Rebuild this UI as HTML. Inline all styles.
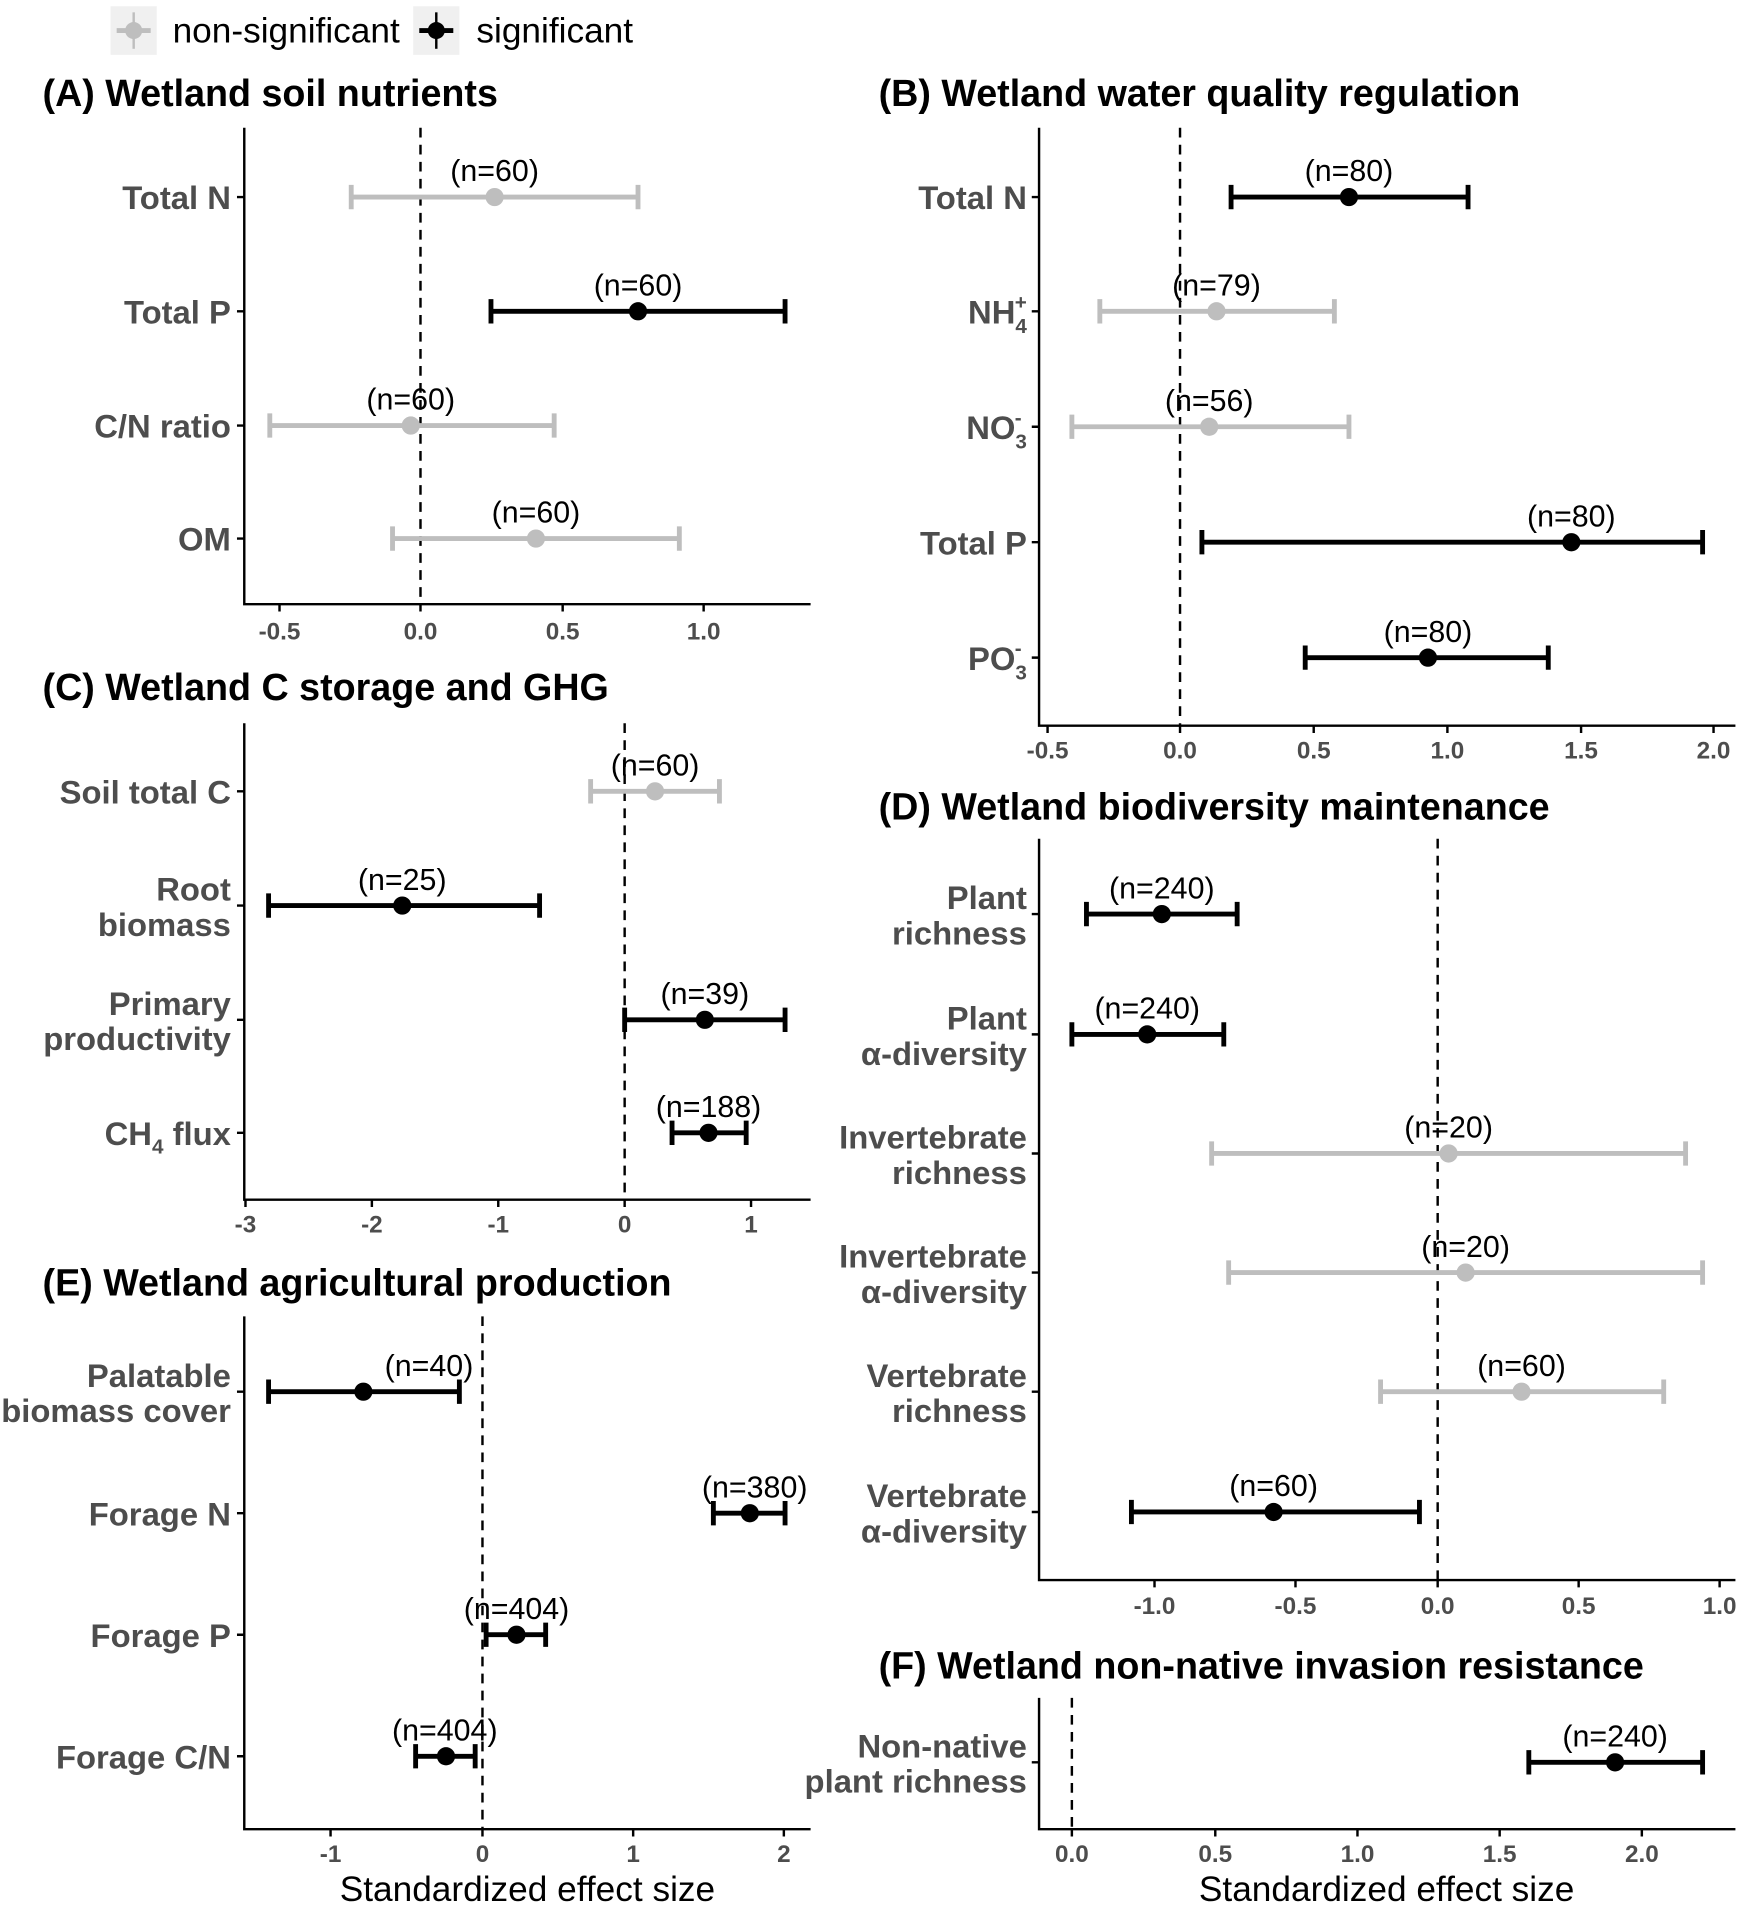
<!DOCTYPE html>
<html><head><meta charset="utf-8"><style>
html,body{margin:0;padding:0;background:#fff;}
svg{display:block;}
text{font-family:"Liberation Sans Narrow","Liberation Sans",sans-serif;}
.t{font-weight:bold;font-size:31px;fill:#000;}
.yl{font-weight:bold;font-size:27px;fill:#4d4d4d;text-anchor:end;}
.tk{font-weight:bold;font-size:20px;fill:#4d4d4d;text-anchor:middle;}
.n{font-size:25px;fill:#000;text-anchor:middle;}
.ax{stroke:#000;stroke-width:2;fill:none;}
.z{stroke:#000;stroke-width:2;stroke-dasharray:8,6;}
.g{stroke:#bebebe;stroke-width:4;fill:none;}
.b{stroke:#000;stroke-width:4;fill:none;}
.xt{font-size:29px;fill:#000;text-anchor:middle;}
</style></head><body>
<svg width="1750" height="1912" viewBox="0 0 1440 1573" xmlns="http://www.w3.org/2000/svg">
<!-- legend -->
<rect x="91" y="5" width="38" height="40" fill="#f0f0f0"/>
<line x1="96" y1="25" x2="124" y2="25" stroke="#bebebe" stroke-width="4"/>
<line x1="110" y1="10" x2="110" y2="40" stroke="#bebebe" stroke-width="2"/>
<circle cx="110" cy="25" r="7" fill="#bebebe"/>
<text x="142" y="35" style="font-size:29px">non-significant</text>
<rect x="340" y="5" width="38" height="40" fill="#f0f0f0"/>
<line x1="345" y1="25" x2="373" y2="25" stroke="#000" stroke-width="4"/>
<line x1="359" y1="10" x2="359" y2="40" stroke="#000" stroke-width="2"/>
<circle cx="359" cy="25" r="7" fill="#000"/>
<text x="392" y="35" style="font-size:29px">significant</text>

<!-- Panel A -->
<text class="t" x="35" y="87">(A) Wetland soil nutrients</text>
<line class="z" x1="346" y1="105" x2="346" y2="497"/>
<path class="ax" d="M201,105V497H667"/>
<g class="ax"><path d="M195,162h6M195,256h6M195,350h6M195,443h6M230,497v6M346,497v6M463,497v6M579,497v6"/></g>
<text class="yl" x="190" y="172">Total N</text>
<text class="yl" x="190" y="266">Total P</text>
<text class="yl" x="190" y="360">C/N ratio</text>
<text class="yl" x="190" y="453">OM</text>
<text class="tk" x="230" y="526">-0.5</text><text class="tk" x="346" y="526">0.0</text><text class="tk" x="463" y="526">0.5</text><text class="tk" x="579" y="526">1.0</text>
<path class="g" d="M289,162H525M289,152v20M525,152v20"/><circle cx="407" cy="162" r="7.5" fill="#bebebe"/><text class="n" x="407" y="149">(n=60)</text>
<path class="b" d="M404,256H646M404,246v20M646,246v20"/><circle cx="525" cy="256" r="7.5"/><text class="n" x="525" y="243">(n=60)</text>
<path class="g" d="M222,350H456M222,340v20M456,340v20"/><circle cx="338" cy="350" r="7.5" fill="#bebebe"/><text class="n" x="338" y="337">(n=60)</text>
<path class="g" d="M323,443H559M323,433v20M559,433v20"/><circle cx="441" cy="443" r="7.5" fill="#bebebe"/><text class="n" x="441" y="430">(n=60)</text>

<!-- Panel B -->
<text class="t" x="723" y="87">(B) Wetland water quality regulation</text>
<line class="z" x1="971" y1="105" x2="971" y2="597"/>
<path class="ax" d="M855,105V597H1428"/>
<g class="ax"><path d="M849,162h6M849,256h6M849,351h6M849,446h6M849,541h6M862,597v6M971,597v6M1081,597v6M1191,597v6M1301,597v6M1410,597v6"/></g>
<text class="yl" x="845" y="172">Total N</text>
<text class="yl" x="845" y="266">NH<tspan dy="8" style="font-size:17px">4</tspan><tspan dy="-20" dx="-10" style="font-size:17px">+</tspan></text>
<text class="yl" x="845" y="361">NO<tspan dy="8" style="font-size:17px">3</tspan><tspan dy="-20" dx="-10" style="font-size:17px">-</tspan></text>
<text class="yl" x="845" y="456">Total P</text>
<text class="yl" x="845" y="551">PO<tspan dy="8" style="font-size:17px">3</tspan><tspan dy="-20" dx="-10" style="font-size:17px">-</tspan></text>
<text class="tk" x="862" y="624">-0.5</text><text class="tk" x="971" y="624">0.0</text><text class="tk" x="1081" y="624">0.5</text><text class="tk" x="1191" y="624">1.0</text><text class="tk" x="1301" y="624">1.5</text><text class="tk" x="1410" y="624">2.0</text>
<path class="b" d="M1013,162H1208M1013,152v20M1208,152v20"/><circle cx="1110" cy="162" r="7.5"/><text class="n" x="1110" y="149">(n=80)</text>
<path class="g" d="M905,256H1098M905,246v20M1098,246v20"/><circle cx="1001" cy="256" r="7.5" fill="#bebebe"/><text class="n" x="1001" y="243">(n=79)</text>
<path class="g" d="M882,351H1110M882,341v20M1110,341v20"/><circle cx="995" cy="351" r="7.5" fill="#bebebe"/><text class="n" x="995" y="338">(n=56)</text>
<path class="b" d="M989,446H1401M989,436v20M1401,436v20"/><circle cx="1293" cy="446" r="7.5"/><text class="n" x="1293" y="433">(n=80)</text>
<path class="b" d="M1074,541H1274M1074,531v20M1274,531v20"/><circle cx="1175" cy="541" r="7.5"/><text class="n" x="1175" y="528">(n=80)</text>

<!-- Panel C -->
<text class="t" x="35" y="576">(C) Wetland C storage and GHG</text>
<line class="z" x1="514" y1="595" x2="514" y2="987"/>
<path class="ax" d="M201,595V987H667"/>
<g class="ax"><path d="M195,651h6M195,745h6M195,839h6M195,932h6M202,987v6M306,987v6M410,987v6M514,987v6M618,987v6"/></g>
<text class="yl" x="190" y="661">Soil total C</text>
<text class="yl" x="190" y="741">Root</text><text class="yl" x="190" y="770">biomass</text>
<text class="yl" x="190" y="835">Primary</text><text class="yl" x="190" y="864">productivity</text>
<text class="yl" x="190" y="942">CH<tspan dy="7" style="font-size:17px">4</tspan><tspan dy="-7"> flux</tspan></text>
<text class="tk" x="202" y="1014">-3</text><text class="tk" x="306" y="1014">-2</text><text class="tk" x="410" y="1014">-1</text><text class="tk" x="514" y="1014">0</text><text class="tk" x="618" y="1014">1</text>
<path class="g" d="M486,651H592M486,641v20M592,641v20"/><circle cx="539" cy="651" r="7.5" fill="#bebebe"/><text class="n" x="539" y="638">(n=60)</text>
<path class="b" d="M221,745H444M221,735v20M444,735v20"/><circle cx="331" cy="745" r="7.5"/><text class="n" x="331" y="732">(n=25)</text>
<path class="b" d="M514,839H646M514,829v20M646,829v20"/><circle cx="580" cy="839" r="7.5"/><text class="n" x="580" y="826">(n=39)</text>
<path class="b" d="M553,932H614M553,922v20M614,922v20"/><circle cx="583" cy="932" r="7.5"/><text class="n" x="583" y="919">(n=188)</text>

<!-- Panel D -->
<text class="t" x="723" y="674">(D) Wetland biodiversity maintenance</text>
<line class="z" x1="1183" y1="690" x2="1183" y2="1300"/>
<path class="ax" d="M855,690V1300H1428"/>
<g class="ax"><path d="M849,752h6M849,851h6M849,949h6M849,1047h6M849,1145h6M849,1244h6M950,1300v6M1066,1300v6M1183,1300v6M1299,1300v6M1415,1300v6"/></g>
<text class="yl" x="845" y="748">Plant</text><text class="yl" x="845" y="777">richness</text>
<text class="yl" x="845" y="847">Plant</text><text class="yl" x="845" y="876">α-diversity</text>
<text class="yl" x="845" y="945">Invertebrate</text><text class="yl" x="845" y="974">richness</text>
<text class="yl" x="845" y="1043">Invertebrate</text><text class="yl" x="845" y="1072">α-diversity</text>
<text class="yl" x="845" y="1141">Vertebrate</text><text class="yl" x="845" y="1170">richness</text>
<text class="yl" x="845" y="1240">Vertebrate</text><text class="yl" x="845" y="1269">α-diversity</text>
<text class="tk" x="950" y="1328">-1.0</text><text class="tk" x="1066" y="1328">-0.5</text><text class="tk" x="1183" y="1328">0.0</text><text class="tk" x="1299" y="1328">0.5</text><text class="tk" x="1415" y="1328">1.0</text>
<path class="b" d="M894,752H1018M894,742v20M1018,742v20"/><circle cx="956" cy="752" r="7.5"/><text class="n" x="956" y="739">(n=240)</text>
<path class="b" d="M882,851H1007M882,841v20M1007,841v20"/><circle cx="944" cy="851" r="7.5"/><text class="n" x="944" y="838">(n=240)</text>
<path class="g" d="M997,949H1387M997,939v20M1387,939v20"/><circle cx="1192" cy="949" r="7.5" fill="#bebebe"/><text class="n" x="1192" y="936">(n=20)</text>
<path class="g" d="M1011,1047H1401M1011,1037v20M1401,1037v20"/><circle cx="1206" cy="1047" r="7.5" fill="#bebebe"/><text class="n" x="1206" y="1034">(n=20)</text>
<path class="g" d="M1136,1145H1369M1136,1135v20M1369,1135v20"/><circle cx="1252" cy="1145" r="7.5" fill="#bebebe"/><text class="n" x="1252" y="1132">(n=60)</text>
<path class="b" d="M931,1244H1168M931,1234v20M1168,1234v20"/><circle cx="1048" cy="1244" r="7.5"/><text class="n" x="1048" y="1231">(n=60)</text>

<!-- Panel E -->
<text class="t" x="35" y="1066">(E) Wetland agricultural production</text>
<line class="z" x1="397" y1="1083" x2="397" y2="1505"/>
<path class="ax" d="M201,1083V1505H667"/>
<g class="ax"><path d="M195,1145h6M195,1245h6M195,1345h6M195,1445h6M272,1505v6M397,1505v6M521,1505v6M645,1505v6"/></g>
<text class="yl" x="190" y="1141">Palatable</text><text class="yl" x="190" y="1170">biomass cover</text>
<text class="yl" x="190" y="1255">Forage N</text>
<text class="yl" x="190" y="1355">Forage P</text>
<text class="yl" x="190" y="1455">Forage C/N</text>
<text class="tk" x="272" y="1532">-1</text><text class="tk" x="397" y="1532">0</text><text class="tk" x="521" y="1532">1</text><text class="tk" x="645" y="1532">2</text>
<path class="b" d="M221,1145H378M221,1135v20M378,1135v20"/><circle cx="299" cy="1145" r="7.5"/><text class="n" x="353" y="1132">(n=40)</text>
<path class="b" d="M587,1245H646M587,1235v20M646,1235v20"/><circle cx="617" cy="1245" r="7.5"/><text class="n" x="621" y="1232">(n=380)</text>
<path class="b" d="M400,1345H449M400,1335v20M449,1335v20"/><circle cx="425" cy="1345" r="7.5"/><text class="n" x="425" y="1332">(n=404)</text>
<path class="b" d="M342,1445H391M342,1435v20M391,1435v20"/><circle cx="367" cy="1445" r="7.5"/><text class="n" x="366" y="1432">(n=404)</text>
<text class="xt" x="434" y="1564">Standardized effect size</text>

<!-- Panel F -->
<text class="t" x="723" y="1381">(F) Wetland non-native invasion resistance</text>
<line class="z" x1="882" y1="1397" x2="882" y2="1505"/>
<path class="ax" d="M855,1397V1505H1428"/>
<g class="ax"><path d="M849,1450h6M882,1505v6M1000,1505v6M1117,1505v6M1234,1505v6M1351,1505v6"/></g>
<text class="yl" x="845" y="1446">Non-native</text><text class="yl" x="845" y="1475">plant richness</text>
<text class="tk" x="882" y="1532">0.0</text><text class="tk" x="1000" y="1532">0.5</text><text class="tk" x="1117" y="1532">1.0</text><text class="tk" x="1234" y="1532">1.5</text><text class="tk" x="1351" y="1532">2.0</text>
<path class="b" d="M1258,1450H1401M1258,1440v20M1401,1440v20"/><circle cx="1329" cy="1450" r="7.5"/><text class="n" x="1329" y="1437">(n=240)</text>
<text class="xt" x="1141" y="1564">Standardized effect size</text>
</svg>
</body></html>
